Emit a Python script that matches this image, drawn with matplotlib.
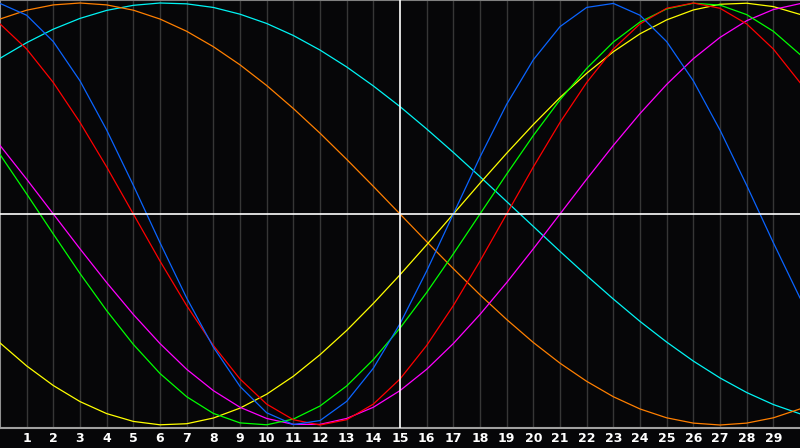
import matplotlib
matplotlib.use("Agg")
import matplotlib.pyplot as plt

days = list(range(0, 31))
day_labels = [str(d) for d in range(1, 30)]

physical = [0.998, 0.942, 0.817, 0.631, 0.398, 0.136, -0.136, -0.398, -0.631, -0.817, -0.942, -0.998, -0.979, -0.888, -0.731, -0.520, -0.270, 0.000, 0.270, 0.520, 0.731, 0.888, 0.979, 0.998, 0.942, 0.817, 0.631, 0.398, 0.136, -0.136, -0.398]
emotional = [0.901, 0.782, 0.623, 0.434, 0.223, -0.000, -0.223, -0.434, -0.623, -0.782, -0.901, -0.975, -1.000, -0.975, -0.901, -0.782, -0.623, -0.434, -0.223, 0.000, 0.223, 0.434, 0.623, 0.782, 0.901, 0.975, 1.000, 0.975, 0.901, 0.782, 0.623]
intellectual = [0.282, 0.095, -0.095, -0.282, -0.458, -0.618, -0.756, -0.866, -0.945, -0.990, -0.999, -0.972, -0.910, -0.815, -0.690, -0.541, -0.372, -0.189, 0.000, 0.189, 0.372, 0.541, 0.690, 0.815, 0.910, 0.972, 0.999, 0.990, 0.945, 0.866, 0.756]
intuitive = [0.325, 0.165, -0.000, -0.165, -0.325, -0.476, -0.614, -0.736, -0.837, -0.916, -0.969, -0.997, -0.997, -0.969, -0.916, -0.837, -0.736, -0.614, -0.476, -0.325, -0.165, 0.000, 0.165, 0.325, 0.476, 0.614, 0.736, 0.837, 0.916, 0.969, 0.997]
aesthetic = [-0.611, -0.720, -0.813, -0.889, -0.946, -0.983, -0.999, -0.994, -0.967, -0.920, -0.854, -0.769, -0.667, -0.552, -0.424, -0.288, -0.146, 0.000, 0.146, 0.288, 0.424, 0.552, 0.667, 0.769, 0.854, 0.920, 0.967, 0.994, 0.999, 0.983, 0.946]
awareness = [0.924, 0.966, 0.991, 1.000, 0.991, 0.966, 0.924, 0.866, 0.793, 0.707, 0.609, 0.500, 0.383, 0.259, 0.131, 0.000, -0.131, -0.259, -0.383, -0.500, -0.609, -0.707, -0.793, -0.866, -0.924, -0.966, -0.991, -1.000, -0.991, -0.966, -0.924]
spiritual = [0.738, 0.812, 0.876, 0.927, 0.965, 0.989, 1.000, 0.996, 0.979, 0.947, 0.903, 0.846, 0.777, 0.697, 0.607, 0.509, 0.403, 0.292, 0.177, 0.059, -0.059, -0.177, -0.292, -0.403, -0.509, -0.607, -0.697, -0.777, -0.846, -0.903, -0.947]

series = [
    (spiritual, "#00f4f4"),
    (awareness, "#ff7f00"),
    (aesthetic, "#ffff00"),
    (intuitive, "#ff00ff"),
    (intellectual, "#00ff00"),
    (emotional, "#ff0000"),
    (physical, "#0a64ff"),
]

bg = "#060608"
fig = plt.figure(figsize=(8, 4.48), dpi=100, facecolor=bg)
ax = fig.add_axes([0, 20 / 448, 1, 428 / 448])
ax.set_facecolor(bg)
ax.set_xlim(0, 30)
ax.set_ylim(-214 / 211, 214 / 211)

for d in range(1, 30):
    if d == 15:
        continue
    ax.axvline(d, color="#363636", lw=1.0, zorder=1)

for vals, col in series:
    ax.plot(days, vals, color=col, lw=0.9, zorder=3, solid_joinstyle="round")

ax.axhline(0, color="#ffffff", lw=1.2, zorder=4)
ax.axvline(15, color="#ffffff", lw=1.2, zorder=4)

for s in ["top", "right"]:
    ax.spines[s].set_visible(False)
ax.spines["left"].set_color("#909090")
ax.spines["left"].set_linewidth(1.5)
ax.spines["bottom"].set_color("#a0a0a0")
ax.spines["bottom"].set_linewidth(1.5)
ax.plot([0, 30], [214 / 211, 214 / 211], color="#808080", lw=1.5, zorder=2, clip_on=False)

ax.set_yticks([])
ax.set_xticks(list(range(1, 30)))
ax.set_xticklabels(day_labels, color="white", fontsize=9, fontweight="bold",
                   family="DejaVu Sans")
ax.tick_params(axis="x", length=0, pad=3)

fig.savefig("out.png", dpi=100, facecolor=bg)
